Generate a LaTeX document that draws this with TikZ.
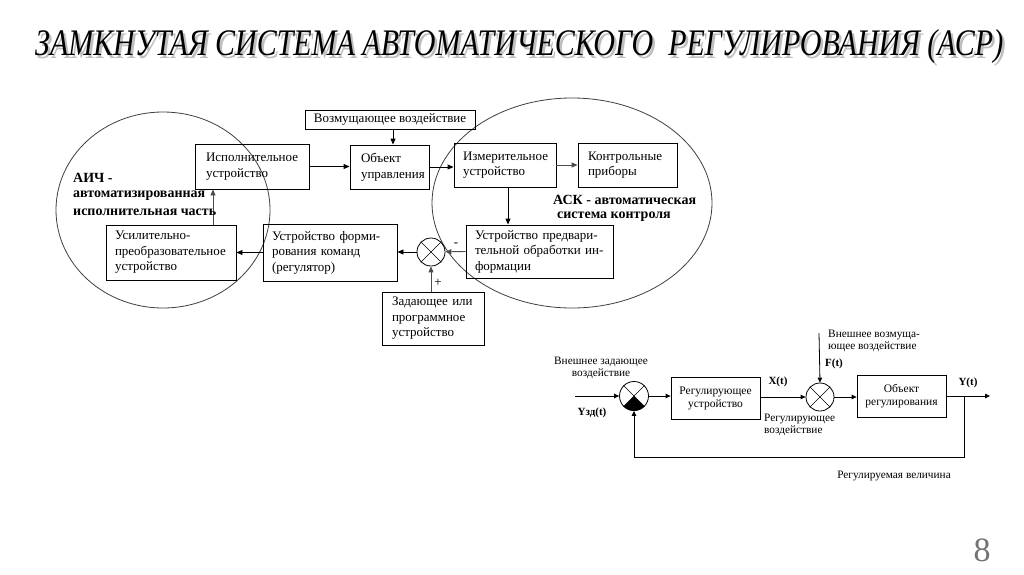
\documentclass[tikz,border=0pt]{standalone}
\usepackage{fontspec}
\setmainfont{Liberation Serif}
\usetikzlibrary{arrows.meta,calc}
\begin{document}
\begin{tikzpicture}[x=1pt,y=-1pt,
  blk/.style={draw,line width=0.9pt,inner sep=0pt,align=left,font=\fontsize{13}{15.5}\selectfont},
  sblk/.style={draw,line width=0.8pt,inner sep=0pt,align=center,font=\fontsize{11.5}{13}\selectfont},
  arr/.style={-{Triangle[length=6pt,width=5pt]},line width=0.9pt},
  sarr/.style={-{Triangle[length=5pt,width=4.5pt]},line width=0.8pt},
  sumj/.style={draw,circle,line width=0.8pt,minimum size=28pt,inner sep=0pt},
  lbl/.style={inner sep=0pt,font=\fontsize{13}{15}\selectfont},
  blbl/.style={inner sep=0pt,anchor=west,font=\bfseries\fontsize{14}{16}\selectfont},
  slbl/.style={inner sep=0pt,font=\fontsize{11.3}{12.3}\selectfont},
  sbl/.style={inner sep=0pt,font=\bfseries\fontsize{11}{12}\selectfont},
  zone/.style={draw=black!75,line width=0.8pt}
]
\useasboundingbox (0,0) rectangle (1024,574);
\fill[white] (0,0) rectangle (1024,574);

% title with shadow
\node[inner sep=0pt,anchor=base west,text=black!25] (titleshadow) at (37.5,58)
  {\resizebox{968pt}{26pt}{\itshape ЗАМКНУТАЯ СИСТЕМА АВТОМАТИЧЕСКОГО \ РЕГУЛИРОВАНИЯ (АСР)}};
\node[inner sep=0pt,anchor=base west] (title) at (35,55.5)
  {\resizebox{968pt}{26pt}{\itshape ЗАМКНУТАЯ СИСТЕМА АВТОМАТИЧЕСКОГО \ РЕГУЛИРОВАНИЯ (АСР)}};

% zones
\draw[zone] (163,210) ellipse [x radius=107pt, y radius=98pt];
\draw[zone] (572,203) ellipse [x radius=140pt, y radius=105pt];

% main blocks
\node[blk,align=center,minimum width=170pt,minimum height=19pt] (voz) at (390,119.5) {Возмущающее~воздействие};
\node[blk,minimum width=114pt,minimum height=45pt,text width=92pt] (isp) at (252,166.5) {Исполнительное\\устройство};
\node[blk,minimum width=79pt,minimum height=44pt,text width=57pt] (obj) at (389.5,167) {Объект\\управления};
\node[blk,minimum width=102pt,minimum height=44pt,text width=84pt] (izm) at (505,165) {Измерительное\\устройство};
\node[blk,minimum width=99pt,minimum height=44pt,text width=79pt] (kon) at (627.5,165) {Контрольные\\приборы};
\node[blk,minimum width=130pt,minimum height=55pt,text width=112pt] (usil) at (171,252.5) {Усилительно-\\преобразовательное\\устройство};
\node[blk,minimum width=134pt,minimum height=57pt,text width=116pt] (reg) at (330,252.5) {Устройство~форми-\\рования~команд\\(регулятор)};
\node[blk,minimum width=147pt,minimum height=53pt,text width=129pt] (pre) at (539.5,251.5) {Устройство~предвари-\\тельной~обработки~ин-\\формации};
\node[blk,minimum width=102pt,minimum height=53pt,text width=82pt] (zad) at (433,318.5) {Задающее~или\\программное\\устройство};
\node[sumj] (sum) at (431,252) {};
\draw[line width=0.6pt] (sum.45) -- (sum.225) (sum.135) -- (sum.315);

% main arrows
\draw[arr] ([xshift=3pt]voz.south) -- ([xshift=3pt]voz.south |- obj.north);
\draw[arr] (isp.east) -- (isp.east -| obj.west);
\draw[arr] (obj.east) -- (obj.east -| izm.west);
\draw[arr,draw=black!70] (izm.east) -- (kon.west);
\draw[arr] ([xshift=3pt]izm.south) -- ([xshift=3pt]izm.south |- pre.north);
\draw[arr,draw=black!70] (pre.west) -- (sum);
\draw[arr] (sum.west) -- (sum.west -| reg.east);
\draw[arr,draw=black!70] (zad.north -| sum) -- (sum.south);
\draw[arr] (reg.west) -- (reg.west -| usil.east);
\draw[arr,draw=black!70] ([xshift=42pt]usil.north) -- ([xshift=42pt]usil.north |- isp.south);
\node[lbl] (minus) at (456,245) {-};
\node[lbl] (plus) at (438,283) {+};

% zone labels
\node[blbl] (aich) at (73,178) {АИЧ -};
\node[blbl] (aich2) at (73,196) {автоматизированная};
\node[blbl] (aich3) at (73,212) {исполнительная часть};
\node[blbl] (ask) at (553,200) {АСК - автоматическая};
\node[blbl] (ask2) at (557,217) {система контроля};

% lower diagram
\node[sumj,minimum size=29pt] (s1) at (634,396) {};
\fill (s1.center) -- (s1.225) -- (s1.240) -- (s1.255) -- (s1.270) -- (s1.285) -- (s1.300) -- (s1.315) -- cycle;
\draw[line width=0.6pt] (s1.45) -- (s1.225) (s1.135) -- (s1.315);
\node[sblk,minimum width=89pt,minimum height=42pt] (rb) at (715.5,398) {Регулирующее\\устройство};
\node[sumj] (s2) at (820,397) {};
\draw[line width=0.6pt] (s2.45) -- (s2.225) (s2.135) -- (s2.315);
\node[sblk,minimum width=89pt,minimum height=42pt] (ob) at (901.5,396) {Объект\\регулирования};

\coordinate (in1) at (575,396);
\coordinate (dist) at (819,333);
\coordinate (out) at (990,396);
\coordinate (fb) at (964,396);
\coordinate (fbb) at (964,457);

\draw[sarr] (in1) -- (s1.west);
\draw[sarr] (s1.east) -- (s1.east -| rb.west);
\draw[sarr] (rb.east |- s2) -- (s2.west);
\draw[sarr] (s2.east) -- (s2.east -| ob.west);
\draw[sarr] (ob.east) -- (out);
\draw[sarr] (dist) -- (s2.north);
\draw[sarr] (fb) -- (fbb) -| (s1.south);

\node[slbl,align=center] (vzad) at (601,368) {Внешнее задающее\\воздействие};
\node[sbl] (yzd) at (592,413) {Yзд(t)};
\node[sbl] (xt) at (778,382) {X(t)};
\node[slbl,align=left,anchor=west] (rv) at (764,425) {Регулирующее\\воздействие};
\node[slbl,align=left,anchor=west] (vvoz) at (828,341) {Внешнее возмуща-\\ющее воздействие};
\node[sbl] (ft) at (834,364) {F(t)};
\node[sbl] (yt) at (968,383) {Y(t)};
\node[slbl] (rvel) at (894,476) {Регулируемая величина};

% page number
\node[inner sep=0pt,text=black!55,font=\fontsize{34}{34}\selectfont] (pg) at (982,550) {8};
\end{tikzpicture}
\end{document}
